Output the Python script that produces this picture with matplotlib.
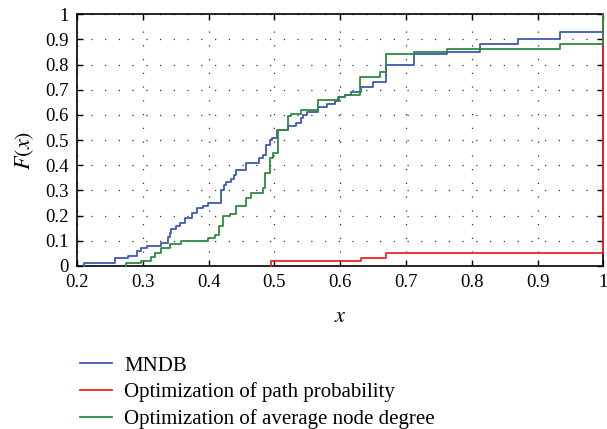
"""
Empirical CDF comparison: MNDB vs. the two optimisation baselines.
"""
import matplotlib
matplotlib.use("Agg")
import matplotlib.pyplot as plt

# ── step data (x where the step starts, F(x) after it) ──
mndb_x = [0.211, 0.211, 0.258, 0.277, 0.291, 0.297, 0.307, 0.328, 0.339, 0.341,
          0.343, 0.351, 0.357, 0.364, 0.375, 0.383, 0.391, 0.399, 0.419, 0.423,
          0.427, 0.434, 0.439, 0.442, 0.457, 0.477, 0.483, 0.488, 0.493, 0.496,
          0.504, 0.521, 0.533, 0.541, 0.544, 0.549, 0.566, 0.580, 0.592, 0.598,
          0.607, 0.617, 0.631, 0.650, 0.670, 0.713, 0.762, 0.812, 0.871, 0.934, 1.0]
mndb_y = [0.00, 0.01, 0.03, 0.04, 0.06, 0.07, 0.08, 0.09, 0.115, 0.13,
          0.145, 0.16, 0.17, 0.19, 0.21, 0.23, 0.24, 0.25, 0.30, 0.32,
          0.335, 0.345, 0.36, 0.38, 0.41, 0.43, 0.44, 0.48, 0.50, 0.51,
          0.54, 0.556, 0.566, 0.586, 0.60, 0.61, 0.63, 0.643, 0.655, 0.67,
          0.68, 0.69, 0.71, 0.73, 0.80, 0.84, 0.85, 0.88, 0.90, 0.93, 0.93]

path_x = [0.4956, 0.4956, 0.631, 0.670, 1.0, 1.0]
path_y = [0.0, 0.02, 0.03, 0.05, 0.05, 1.0]

degree_x = [0.2746, 0.2746, 0.298, 0.313, 0.319, 0.328, 0.342, 0.358, 0.399, 0.409,
            0.416, 0.422, 0.432, 0.442, 0.457, 0.465, 0.483, 0.485, 0.493, 0.498,
            0.505, 0.521, 0.526, 0.541, 0.566, 0.597, 0.607, 0.630, 0.660, 0.670,
            0.713, 0.762, 0.934, 1.0, 1.0]
degree_y = [0.0, 0.01, 0.02, 0.037, 0.05, 0.07, 0.087, 0.10, 0.11, 0.125,
            0.16, 0.20, 0.206, 0.238, 0.269, 0.288, 0.308, 0.368, 0.427, 0.447,
            0.54, 0.595, 0.602, 0.619, 0.659, 0.672, 0.68, 0.751, 0.771, 0.84,
            0.85, 0.86, 0.88, 0.88, 1.0]

labels = ["MNDB", "Optimization of path probability",
          "Optimization of average node degree"]
colors = ["#3f5bb0", "#e8262c", "#2e8b3e"]

xticks = [0.2, 0.3, 0.4, 0.5, 0.6, 0.7, 0.8, 0.9, 1.0]
xtick_labels = ["0.2", "0.3", "0.4", "0.5", "0.6", "0.7", "0.8", "0.9", "1"]
yticks = [0, 0.1, 0.2, 0.3, 0.4, 0.5, 0.6, 0.7, 0.8, 0.9, 1.0]
ytick_labels = ["0", "0.1", "0.2", "0.3", "0.4", "0.5", "0.6", "0.7", "0.8", "0.9", "1"]

plt.rcParams["font.family"] = ["Liberation Serif", "DejaVu Serif"]
plt.rcParams["mathtext.fontset"] = "stix"

fig = plt.figure(figsize=(6.07, 4.29), dpi=100)
ax = fig.add_axes([0.1269, 0.380, 0.867, 0.587])

series = [(mndb_x, mndb_y), (path_x, path_y), (degree_x, degree_y)]
for (xs, ys), lab, col in zip(series, labels, colors):
    # drawn above the spines so the vertical jumps at x = 1 stay visible
    ax.step(xs, ys, where="post", color=col, lw=1.3, label=lab,
            clip_on=False, zorder=3)

ax.set_xlim(0.2, 1.0)
ax.set_ylim(0, 1.0)
ax.set_xticks(xticks)
ax.set_xticklabels(xtick_labels)
ax.set_yticks(yticks)
ax.set_yticklabels(ytick_labels)
ax.tick_params(direction="in", length=4, width=1.0, labelsize=13.5,
               top=True, right=True)
ax.tick_params(axis="x", pad=6)
ax.tick_params(axis="y", pad=6)
ax.grid(True, color="#333333", linestyle=(0, (1, 10)), linewidth=0.9)
for sp in ax.spines.values():
    sp.set_linewidth(1.2)

ax.set_xlabel(r"$x$", fontsize=16)
ax.xaxis.set_label_coords(0.5, -0.206)
ax.xaxis.label.set_va("center")
ax.set_ylabel(r"$F(x)$", fontsize=16)
ax.yaxis.set_label_coords(-0.10, 0.46)
ax.yaxis.label.set_va("center")

ax.legend(loc="upper left", bbox_to_anchor=(0.132, 0.170), bbox_transform=fig.transFigure,
          frameon=False, fontsize=15, handlelength=1.55, handletextpad=0.58,
          labelspacing=0.33, borderpad=0, borderaxespad=0)

fig.savefig("out.png", dpi=100)
